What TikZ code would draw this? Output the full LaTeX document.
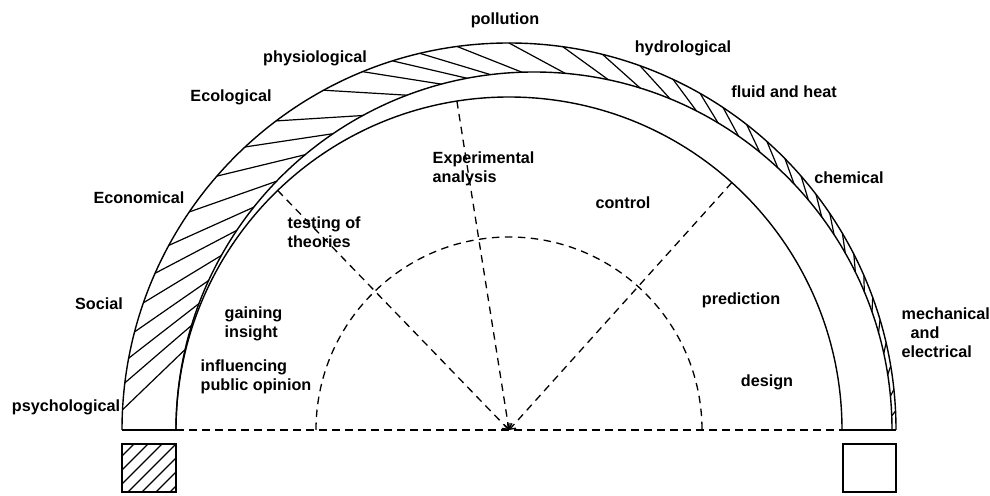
\documentclass[tikz,border=0pt]{standalone}
\usepackage{fontspec}
\setmainfont{Liberation Sans}
\usetikzlibrary{arrows.meta,calc}
\begin{document}
\begin{tikzpicture}[x=1pt,y=1pt,line width=1.4pt,
  lbl/.style={font=\fontsize{16.2}{18.8}\selectfont\bfseries, inner sep=0pt, align=left},
  dsh/.style={dash pattern=on 7.5pt off 5.5pt, line width=1.3pt},
  hatchline/.style={line width=1.2pt},
  tip/.style={-{Straight Barb[length=5pt,width=8pt]}}]
\useasboundingbox (0,0) rectangle (990,495);
\coordinate (c) at (509,65);
\coordinate (m) at (534,65);
% hatching in the band
\foreach \t in {177,173,169.3,165.3,160.8,156.1,151.5,145.7,139,133,127,118.6,112.2,107.5,103.3,97.7,90,82,76,70.2,64.9,60.4,56.4,52.1,48.2,44.5,41,37.5,34,30.5,27,23.5,20,16.5,13,9.5,6,2.8} {
  \pgfmathsetmacro\d{\t>=150 ? 10 : (\t>=120 ? 8+2*(\t-120)/30 : (\t>=90 ? 5+3*(\t-90)/30 : (\t>=60 ? 1.3+3.7*(\t-60)/30 : 0.5+0.8*\t/60)))}
  \draw[hatchline] ($(c)+(\t:387)$) -- ($(m)+(\t-\d:358)$);
}
% arcs
\draw (122,65) arc[start angle=180,end angle=0,radius=387];
\draw (176,65) arc[start angle=180,end angle=0,radius=358];
\draw (176,65) arc[start angle=180,end angle=0,radius=333];
\draw (122,65) -- (176,65);
\draw (843,65) -- (896,65);
% dashed
\draw[dsh] (176,65) -- (843,65);
\draw[dsh] (316,65) arc[start angle=180,end angle=0,radius=193];
\coordinate (r1) at ($(c)+(99:333)$);
\coordinate (r2) at ($(c)+(134:333)$);
\coordinate (r3) at ($(c)+(48:333)$);
\draw[dsh,tip] (r1) -- (c);
\draw[dsh,tip] (r2) -- (c);
\draw[dsh,tip] (r3) -- (c);
% legend boxes
\begin{scope}
  \clip (122,3) rectangle (176,51);
  \foreach \k in {0,...,8} \draw[hatchline] (122+14*\k-50,3) -- ++(60,60);
\end{scope}
\draw (122,3) rectangle (176,51);
\draw (843,3) rectangle (896,51);
% labels
\node[lbl] (pol) at (505,475) {pollution};
\node[lbl] (hyd) at (683,447) {hydrological};
\node[lbl] (flu) at (784,403) {fluid and heat};
\node[lbl] (che) at (849,317) {chemical};
\node[lbl,anchor=west] (mec) at (901,162) {mechanical\\\hspace{9pt}and\\electrical};
\node[lbl] (phy) at (315,437) {physiological};
\node[lbl] (ecol) at (231,398) {Ecological};
\node[lbl] (econ) at (139,297) {Economical};
\node[lbl] (soc) at (99,191) {Social};
\node[lbl] (psy) at (66,88) {psychological};
\node[lbl,anchor=west] (tes) at (287,263) {testing of\\theories};
\node[lbl,anchor=west] (exp) at (432,326) {Experimental\\analysis};
\node[lbl] (con) at (623,292) {control};
\node[lbl,anchor=west] (gai) at (224,171) {gaining\\insight};
\node[lbl,anchor=west] (inf) at (200,118) {influencing\\public opinion};
\node[lbl] (pre) at (741,195) {prediction};
\node[lbl] (des) at (767,113) {design};
\end{tikzpicture}
\end{document}
